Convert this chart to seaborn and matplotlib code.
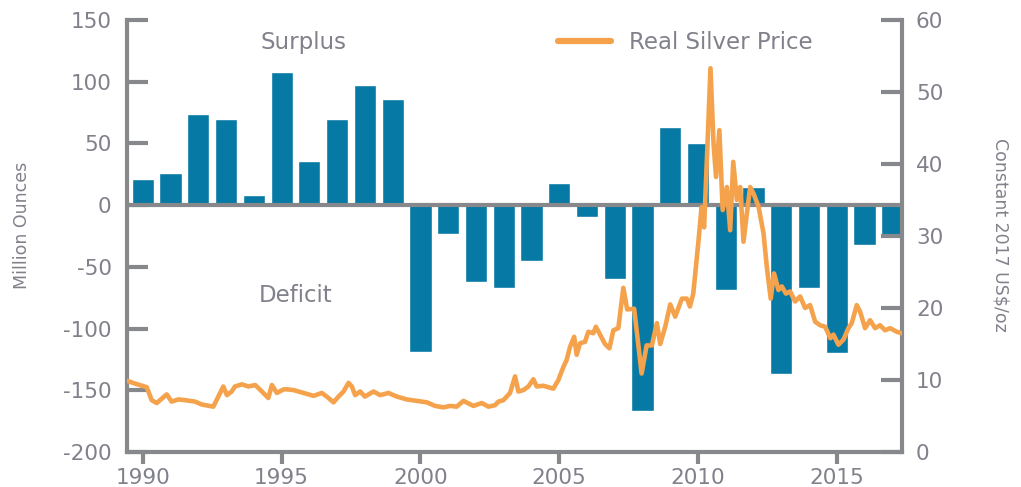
import matplotlib
matplotlib.use("Agg")
import matplotlib.pyplot as plt
import seaborn as sns

# ---------------- data ----------------
years = list(range(1990, 2018))
balance = [21, 26, 74, 70, 8, 108, 36, 70, 97, 86,
           -119, -23, -62, -67, -45, 18, -10, -60, -167, 63,
           50, -69, 15, -137, -67, -120, -32, -25]

price_dates = [
    1989.42, 1989.72, 1990.14, 1990.32, 1990.50, 1990.86, 1991.04, 1991.28, 1991.52, 1991.88,
    1992.12, 1992.54, 1992.72, 1992.90, 1993.03, 1993.20, 1993.32, 1993.57, 1993.80, 1994.05,
    1994.29, 1994.52, 1994.65, 1994.83, 1995.07, 1995.19, 1995.43, 1995.79, 1996.15, 1996.45,
    1996.69, 1996.87, 1997.05, 1997.23, 1997.41, 1997.53, 1997.65, 1997.83, 1998.00, 1998.31,
    1998.55, 1998.85, 1999.15, 1999.51, 1999.87, 2000.23, 2000.53, 2000.83, 2001.07, 2001.31,
    2001.55, 2001.91, 2002.21, 2002.45, 2002.69, 2002.81, 2002.99, 2003.23, 2003.41, 2003.53,
    2003.71, 2003.89, 2004.07, 2004.19, 2004.43, 2004.79, 2004.97, 2005.15, 2005.27, 2005.39,
    2005.54, 2005.63, 2005.75, 2005.93, 2006.05, 2006.23, 2006.32, 2006.47, 2006.65, 2006.81,
    2006.95, 2007.13, 2007.31, 2007.45, 2007.70, 2007.97, 2008.15, 2008.34, 2008.52, 2008.64,
    2008.82, 2009.00, 2009.18, 2009.42, 2009.60, 2009.71, 2009.83, 2010.01, 2010.13, 2010.22,
    2010.33, 2010.45, 2010.56, 2010.65, 2010.77, 2010.89, 2011.04, 2011.16, 2011.27, 2011.40,
    2011.52, 2011.64, 2011.76, 2011.88, 2012.00, 2012.18, 2012.36, 2012.48, 2012.62, 2012.74,
    2012.90, 2013.02, 2013.17, 2013.32, 2013.50, 2013.68, 2013.86, 2014.04, 2014.22, 2014.40,
    2014.58, 2014.77, 2014.88, 2015.06, 2015.24, 2015.42, 2015.54, 2015.72, 2015.84, 2016.02,
    2016.20, 2016.38, 2016.56, 2016.74, 2016.92, 2017.16, 2017.34]
price_values = [
    9.9, 9.5, 9.0, 7.2, 6.8, 8.0, 7.0, 7.3, 7.2, 7.0,
    6.6, 6.3, 7.7, 9.1, 7.9, 8.4, 9.1, 9.4, 9.1, 9.3,
    8.4, 7.5, 9.3, 8.2, 8.7, 8.7, 8.6, 8.2, 7.8, 8.2,
    7.5, 6.9, 7.7, 8.4, 9.6, 9.1, 7.9, 8.4, 7.7, 8.4,
    7.9, 8.2, 7.7, 7.3, 7.1, 6.9, 6.4, 6.2, 6.4, 6.3,
    7.1, 6.4, 6.8, 6.3, 6.5, 7.0, 7.2, 8.2, 10.5, 8.4,
    8.6, 9.1, 10.1, 9.1, 9.2, 8.8, 10.0, 11.8, 12.8, 14.6,
    16.0, 13.5, 15.1, 15.3, 16.7, 16.5, 17.4, 16.3, 15.0, 14.4,
    16.9, 17.2, 22.8, 19.8, 19.9, 10.9, 14.8, 14.8, 17.9, 15.0,
    17.4, 20.5, 18.8, 21.3, 21.3, 20.2, 22.0, 29.0, 34.0, 31.2,
    41.5, 53.3, 42.9, 38.2, 44.7, 33.6, 36.8, 30.8, 40.3, 35.0,
    36.8, 29.2, 33.1, 36.8, 35.9, 34.1, 30.4, 25.7, 21.3, 24.8,
    22.5, 23.0, 22.0, 22.3, 20.9, 21.6, 20.0, 20.4, 18.1, 17.6,
    17.4, 15.8, 16.3, 14.9, 15.6, 17.2, 17.9, 20.4, 19.5, 17.2,
    18.3, 17.2, 17.6, 16.9, 17.2, 16.7, 16.5]

left_ticks = [-200, -150, -100, -50, 0, 50, 100, 150]
right_ticks = [0, 10, 20, 30, 40, 50, 60]
year_ticks = [1990, 1995, 2000, 2005, 2010, 2015]

# ---------------- style ----------------
BAR = "#0779a5"
ORANGE = "#f5a24c"
AXC = "#87888c"
TXT = "#80818a"

sns.set_theme(style="white")
plt.rcParams["font.family"] = ["DejaVu Sans"]
plt.rcParams["axes.unicode_minus"] = False

fig = plt.figure(figsize=(10.21, 4.87), dpi=100)
ax = fig.add_axes([127 / 1021, 1 - 452 / 487, 775 / 1021, 432 / 487])

sns.barplot(x=years, y=balance, native_scale=True, width=0.8, color=BAR,
            saturation=1, ax=ax, zorder=2)
ax.axhline(0, color=AXC, lw=3, zorder=3)

ax.set_xlim(1989.43, 2017.35)
ax.set_ylim(-200, 150)
ax.set_yticks(left_ticks)
ax.set_xticks(year_ticks)
ax.set_xticklabels([str(y) for y in year_ticks])
ax.set_xlabel("")
ax.set_ylabel("")

for s in ["top", "right"]:
    ax.spines[s].set_visible(False)
for s in ["left", "bottom"]:
    ax.spines[s].set_color(AXC)
    ax.spines[s].set_linewidth(3)

ax.tick_params(axis="y", direction="in", length=15, width=3, color=AXC,
               labelcolor=TXT, labelsize=15.5, pad=11, left=True)
ax.tick_params(axis="x", direction="out", length=8.5, width=3, color=AXC,
               labelcolor=TXT, labelsize=15.5, pad=3, bottom=True)

ax2 = ax.twinx()
sns.lineplot(x=price_dates, y=price_values, ax=ax2, color=ORANGE, lw=3.3,
             label="Real Silver Price", zorder=4)
ax2.set_ylim(0, 60)
ax2.set_yticks(right_ticks)
ax2.set_xlim(1989.43, 2017.35)
ax2.set_ylabel("")
for s in ["top", "left", "bottom"]:
    ax2.spines[s].set_visible(False)
ax2.spines["right"].set_color(AXC)
ax2.spines["right"].set_linewidth(3)
ax2.tick_params(axis="y", direction="in", length=15, width=3, color=AXC,
                labelcolor=TXT, labelsize=15.5, pad=10, right=True)
ax2.grid(False)
ax.grid(False)

leg = ax2.legend(loc="center left", bbox_to_anchor=(0.53, 0.949), frameon=False,
                 fontsize=16.5, handlelength=2.3, handletextpad=0.8)
for t in leg.get_texts():
    t.set_color(TXT)
for h in leg.get_lines():
    h.set_linewidth(4.5)
    h.set_solid_capstyle("round")

fig.text(303 / 1021, 1 - 43 / 487, "Surplus", fontsize=16.5, color=TXT,
         ha="center", va="center")
fig.text(296 / 1021, 1 - 295 / 487, "Deficit", fontsize=16.5, color=TXT,
         ha="center", va="center")
fig.text(22 / 1021, 1 - 225 / 487, "Million Ounces", fontsize=12.5, color=TXT,
         ha="center", va="center", rotation=90)
fig.text(1000 / 1021, 1 - 235 / 487, "Constant 2017 US\\$/oz", fontsize=12.5,
         color=TXT, ha="center", va="center", rotation=270)

fig.savefig("out.png", dpi=100, facecolor="white")
